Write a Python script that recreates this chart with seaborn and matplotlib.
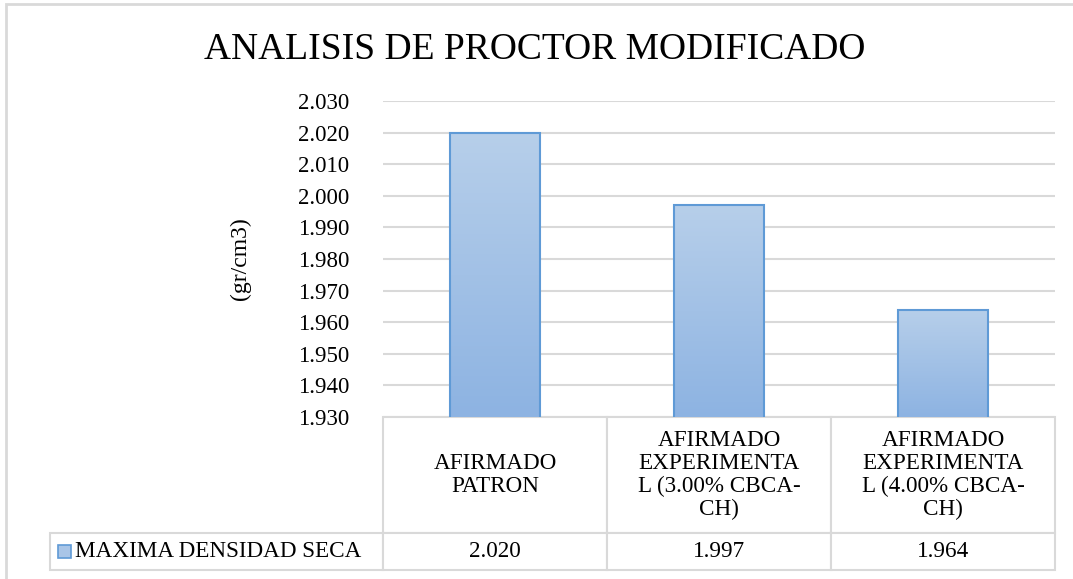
import matplotlib
matplotlib.use("Agg")
import matplotlib.pyplot as plt
import numpy as np
import seaborn as sns
from matplotlib.colors import LinearSegmentedColormap
from matplotlib.patches import Rectangle

# data
categories = ["AFIRMADO\nPATRON",
              "AFIRMADO\nEXPERIMENTA\nL (3.00% CBCA-\nCH)",
              "AFIRMADO\nEXPERIMENTA\nL (4.00% CBCA-\nCH)"]
series_name = "MAXIMA DENSIDAD SECA"
densidad = [2.020, 1.997, 1.964]
y_ticks = [1.930, 1.940, 1.950, 1.960, 1.970, 1.980, 1.990, 2.000, 2.010, 2.020, 2.030]

title = "ANALISIS DE PROCTOR MODIFICADO"
ylabel = "(gr/cm3)"

sns.set_style("white")
plt.rcParams["font.family"] = ["Liberation Serif", "DejaVu Serif"]
plt.rcParams["text.color"] = "black"
plt.rcParams["axes.labelcolor"] = "black"
plt.rcParams["ytick.color"] = "black"

grid_c = "#d9d9d9"
edge_c = "#5f9ad6"
grad = LinearSegmentedColormap.from_list("bar", ["#8db3e2", "#b7cfea"])

fig = plt.figure(figsize=(10.73, 5.79), dpi=100)
ax = fig.add_axes([0.3569, 0.2798, 0.6263, 0.5458])

sns.barplot(x=list(range(len(densidad))), y=densidad, width=0.4,
            color="#a9c5e7", edgecolor=edge_c, linewidth=1.5, ax=ax)

# vertical gradient fill for every bar
for p in ax.patches:
    x0, x1 = p.get_x(), p.get_x() + p.get_width()
    top = p.get_y() + p.get_height()
    im = ax.imshow(np.linspace(0, 1, 256).reshape(-1, 1), cmap=grad,
                   extent=[x0, x1, y_ticks[0], top], aspect="auto",
                   origin="lower", zorder=2)
    im.set_clip_path(p)
    p.set_facecolor("none")
    p.set_zorder(3)
ax.set_ylim(y_ticks[0], y_ticks[-1])
ax.set_xlim(-0.5, len(densidad) - 0.5)

ax.set_yticks(y_ticks)
ax.set_yticklabels([f"{v:.3f}" for v in y_ticks], fontsize=16.5)
ax.tick_params(axis="y", length=0, pad=24)
ax.set_xticks([])
ax.set_xlabel("")
ax.yaxis.grid(True, color=grid_c, linewidth=1.5)
ax.set_axisbelow(True)
for s in ax.spines.values():
    s.set_visible(False)

ax.set_ylabel(ylabel, fontsize=17)
ax.yaxis.set_label_coords(-0.197, 0.5)

# data table under the plot (bbox covers the grid, row label hangs left)
head_h, val_h, lab_w = 0.367, 0.117, 0.4955
tbl = ax.table(cellText=[[f"{v:.3f}" for v in densidad]],
               rowLabels=[series_name], colLabels=categories,
               colWidths=[1 / 3] * 3,
               cellLoc="center", rowLoc="left", colLoc="center",
               bbox=[0, -(head_h + val_h), 1, head_h + val_h])
tbl.auto_set_font_size(False)
tbl.set_fontsize(16.7)
tbl._autoColumns = []
for (r, c), cell in tbl.get_celld().items():
    cell.set_edgecolor(grid_c)
    cell.set_linewidth(1.5)
    cell.set_height(head_h if r == 0 else val_h)
    cell.get_text().set_linespacing(1.12)
    if c == -1:
        cell.set_width(lab_w)
        cell.PAD = 0.075

# legend key in the row label cell
key_y = -(head_h + val_h) + val_h / 2
ax.add_patch(Rectangle((-lab_w + 0.012, key_y - 0.022), 0.02, 0.044,
                       transform=ax.transAxes, facecolor="#a9c5e7",
                       edgecolor=edge_c, linewidth=1.2, clip_on=False, zorder=5))

fig.text(535 / 1073, 1 - 50 / 579, title, ha="center", va="center", fontsize=27)

# outer chart frame
fig.patches.append(Rectangle((6 / 1073, -0.1), 1.2, 1.1 - 4 / 579,
                             transform=fig.transFigure, fill=False,
                             edgecolor=grid_c, linewidth=2))

fig.savefig("out.png", dpi=100)
